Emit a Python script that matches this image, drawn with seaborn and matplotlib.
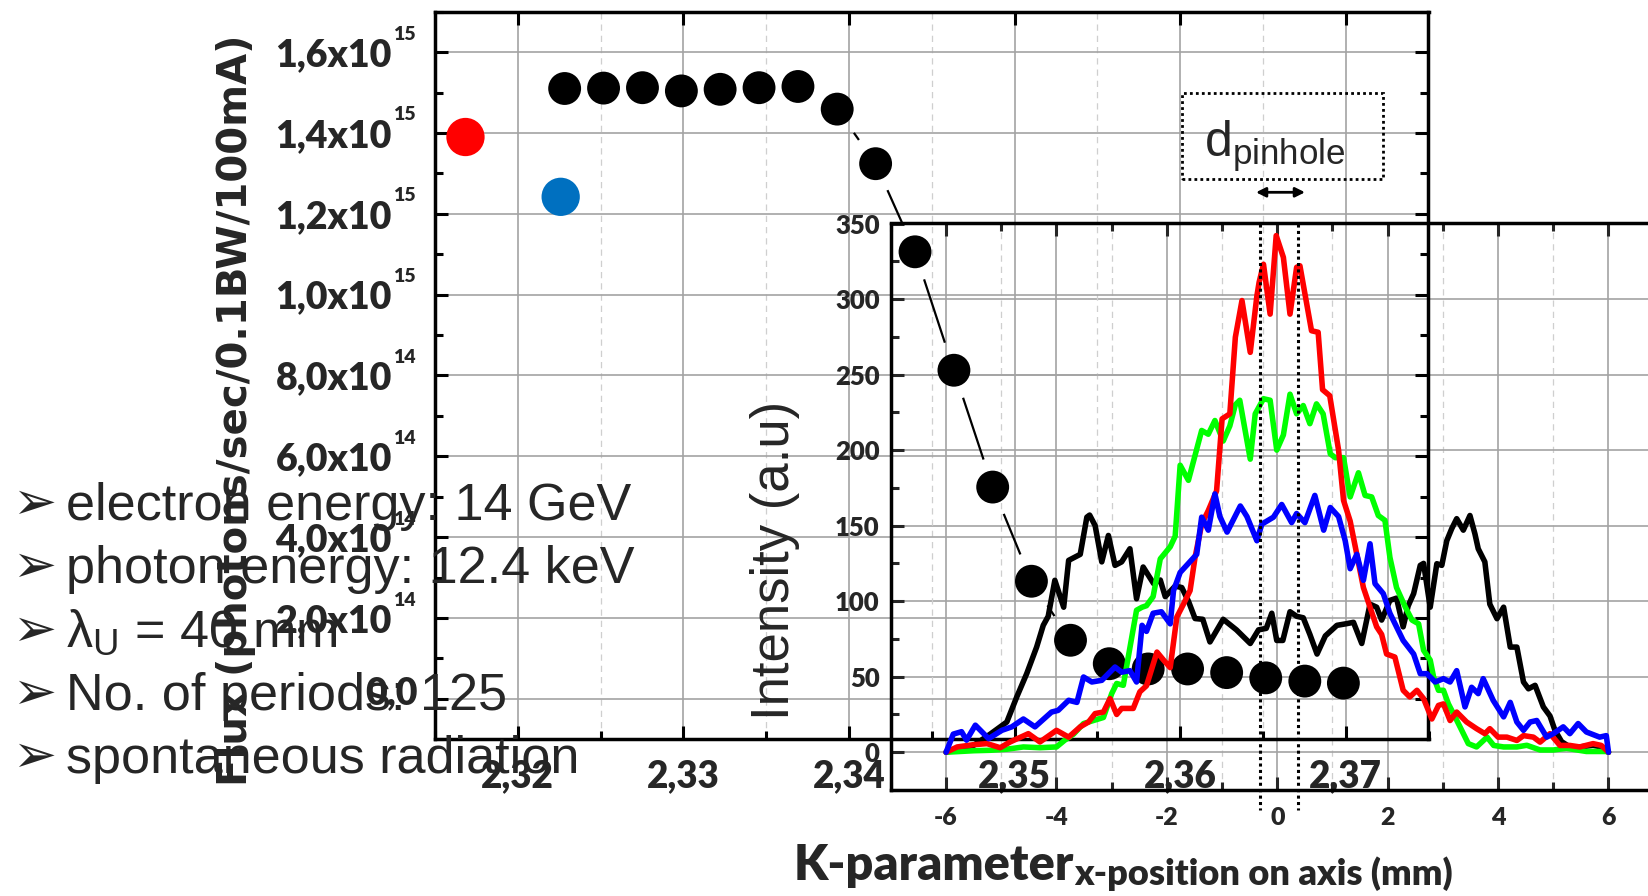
import numpy as np
import pandas as pd
import matplotlib
matplotlib.use("Agg")
import matplotlib.pyplot as plt
import seaborn as sns
from matplotlib.patches import Rectangle, FancyArrowPatch
from matplotlib.ticker import MultipleLocator

# ---------------- data ----------------
# Undulator flux versus K-parameter
k_param = [2.32283, 2.32518, 2.32753, 2.32988, 2.33222, 2.33457, 2.33692,
           2.33929, 2.34161, 2.34399, 2.34634, 2.34868, 2.35102, 2.35338,
           2.35572, 2.35807, 2.36045, 2.36281, 2.36517, 2.36753, 2.36986]
flux = [1.510e15, 1.511e15, 1.512e15, 1.504e15, 1.508e15, 1.512e15, 1.515e15,
        1.459e15, 1.324e15, 1.106e15, 0.813e15, 0.524e15, 0.291e15, 0.145e15,
        0.087e15, 0.074e15, 0.074e15, 0.065e15, 0.052e15, 0.044e15, 0.039e15]
k_red = [2.31684]
flux_red = [1.390e15]
k_blue = [2.32259]
flux_blue = [1.242e15]

flux_ticks = [0, 2e14, 4e14, 6e14, 8e14, 1.0e15, 1.2e15, 1.4e15, 1.6e15]
flux_tick_base = ["0,0", "2,0x10", "4,0x10", "6,0x10", "8,0x10",
                  "1,0x10", "1,2x10", "1,4x10", "1,6x10"]
flux_tick_exp = ["", "14", "14", "14", "14", "15", "15", "15", "15"]
k_ticks = [2.32, 2.33, 2.34, 2.35, 2.36, 2.37]
k_tick_labels = ["2,32", "2,33", "2,34", "2,35", "2,36", "2,37"]

# Beam profiles along x on axis
black_x = [-6.0, -5.5, -5.2, -4.9, -4.72, -4.54, -4.36, -4.24, -4.15, -4.03, -3.87,
           -3.78, -3.57, -3.45, -3.40, -3.30, -3.18, -3.06, -2.94, -2.82, -2.67,
           -2.55, -2.43, -2.24, -2.12, -2.03, -1.85, -1.73, -1.61, -1.49, -1.35,
           -1.22, -0.98, -0.74, -0.49, -0.34, -0.20, -0.10, -0.01, 0.10, 0.23,
           0.35, 0.47, 0.59, 0.72, 0.87, 1.08, 1.24, 1.38, 1.53, 1.68, 1.80,
           1.89, 2.04, 2.16, 2.28, 2.37, 2.47, 2.59, 2.65, 2.77, 2.89, 2.98,
           3.07, 3.16, 3.25, 3.37, 3.49, 3.58, 3.64, 3.76, 3.85, 3.98, 4.10,
           4.22, 4.34, 4.46, 4.55, 4.67, 4.82, 4.94, 5.03, 5.15, 5.30, 5.48,
           5.72, 5.87, 6.0]
black_i = [0, 4.6, 12, 20, 36.6, 52, 69.6, 84, 90, 113.8, 96,
           127, 131, 155.6, 157, 150, 126, 143.5, 123.7, 126, 134.7,
           101.6, 122.6, 111.6, 114, 103, 110, 109, 100, 88.5, 88,
           73, 88, 81, 72, 81, 82, 92, 74, 74, 93,
           90, 89, 78, 65, 77, 84, 85, 86, 72, 98, 96,
           87.5, 100.5, 102, 83, 96.8, 105, 123.7, 125, 96, 124.8, 123.7,
           140, 148, 154.6, 147, 156.7, 144.6, 134.7, 126, 98, 88.4, 96,
           69.6, 69.6, 46.5, 42, 44.3, 30, 24, 14.5, 7, 3.5, 3.5,
           4.6, 3.5, 0]

green_x = [-6.0, -5.5, -5.2, -4.9, -4.6, -4.3, -4.0, -3.85, -3.69, -3.51, -3.33,
           -3.15, -3.0, -2.91, -2.79, -2.70, -2.55, -2.45, -2.37, -2.25, -2.12,
           -1.94, -1.85, -1.76, -1.61, -1.37, -1.25, -1.13, -0.98, -0.86, -0.76,
           -0.68, -0.49, -0.40, -0.25, -0.13, -0.01, 0.11, 0.23, 0.35, 0.47,
           0.59, 0.71, 0.83, 0.96, 1.05, 1.20, 1.32, 1.47, 1.59, 1.71, 1.83,
           1.95, 2.04, 2.16, 2.32, 2.44, 2.56, 2.65, 2.77, 2.83, 2.92, 3.01,
           3.10, 3.19, 3.31, 3.46, 3.61, 3.80, 3.92, 4.10, 4.34, 4.52, 4.76,
           5.00, 5.24, 5.60, 5.96, 6.0]
green_i = [0, 1, 1.3, 2, 3.5, 3, 3.5, 8, 12, 19, 21,
           23, 38.8, 45.5, 44.3, 63, 94, 96, 97, 103, 128,
           136, 143, 190, 180, 213, 210.5, 219.6, 206, 216, 230,
           233, 194, 224, 234, 233, 200, 210, 237, 224, 229.5,
           217.5, 230.6, 224, 197.5, 195, 195, 169, 185, 170, 169, 156.7,
           153.5, 129, 109, 96, 87.5, 85, 67.5, 61, 50, 41, 41,
           32, 25.6, 16.8, 5.7, 3.5, 10, 4.5, 3.5, 3.5, 4.6, 1.5,
           1.5, 2.6, 0.5, 0.5, 0]

red_x = [-6.0, -5.8, -5.5, -5.26, -5.02, -4.84, -4.51, -4.30, -4.0, -3.78, -3.57,
         -3.42, -3.30, -3.15, -3.03, -2.91, -2.82, -2.61, -2.49, -2.37, -2.18,
         -2.06, -1.94, -1.82, -1.70, -1.58, -1.49, -1.37, -1.25, -1.10, -1.0,
         -0.86, -0.76, -0.64, -0.49, -0.37, -0.33, -0.25, -0.13, -0.02, 0.11,
         0.23, 0.35, 0.41, 0.62, 0.74, 0.82, 0.95, 1.11, 1.20, 1.32, 1.44,
         1.56, 1.68, 1.80, 1.89, 1.98, 2.13, 2.28, 2.40, 2.53, 2.65, 2.80,
         2.92, 3.01, 3.13, 3.25, 3.43, 3.61, 3.76, 3.85, 4.0, 4.16, 4.34,
         4.46, 4.64, 4.76, 4.94, 5.12, 5.30, 5.48, 5.72, 5.87, 6.0]
red_i = [0, 3.5, 5, 5.7, 3, 6.8, 12.3, 6.8, 14.5, 10, 16.8,
         20, 25.6, 26.6, 35.5, 25, 29, 29, 40, 44, 66.3,
         61, 56, 89.5, 98, 107, 129, 151, 160, 173, 220.7,
         224, 274.7, 299, 264.7, 302, 311, 323, 290, 342, 327.6,
         290, 321, 322, 279, 278, 240, 236, 200, 166.7, 153, 131,
         109, 96, 83, 78, 65, 63, 41, 36.6, 41, 35.5, 22,
         31, 32, 21, 26.6, 20, 15.6, 12.3, 15.6, 10, 10, 7.8,
         11, 10, 6.7, 12.3, 4.5, 4.5, 3.5, 5.7, 4.5, 0]

blue_x = [-6.0, -5.87, -5.72, -5.63, -5.47, -5.23, -4.99, -4.81, -4.60, -4.39, -4.09,
          -3.97, -3.78, -3.63, -3.51, -3.36, -3.18, -2.94, -2.82, -2.67, -2.55,
          -2.45, -2.37, -2.25, -2.10, -1.94, -1.88, -1.76, -1.46, -1.37, -1.25,
          -1.13, -1.04, -0.91, -0.67, -0.55, -0.37, -0.28, -0.07, 0.08, 0.26,
          0.35, 0.50, 0.68, 0.84, 0.96, 1.11, 1.23, 1.32, 1.44, 1.56, 1.68,
          1.77, 1.92, 2.04, 2.16, 2.28, 2.47, 2.59, 2.71, 2.86, 3.01, 3.13,
          3.25, 3.40, 3.52, 3.64, 3.73, 3.91, 4.10, 4.22, 4.34, 4.46, 4.58,
          4.70, 4.88, 5.00, 5.18, 5.30, 5.45, 5.60, 5.84, 5.96, 6.0]
blue_i = [0, 12, 13.6, 8, 17.9, 9, 14.5, 16.8, 22, 16.8, 26.6,
          27.7, 34.4, 33, 49.8, 46.5, 47.6, 56.4, 53, 54, 46.5,
          84, 80, 92, 93, 85, 107, 119, 131, 155.6, 147,
          171, 156, 145.7, 163, 156, 140, 151, 155.6, 164, 152,
          158, 152, 170, 147, 162, 156, 140, 121.5, 131, 113.8, 138,
          111.6, 105, 92, 83, 74, 65, 52, 52, 46.5, 48.7, 46.5,
          54, 30, 43, 38.8, 48.7, 34.4, 23.4, 33, 20, 14.5, 20,
          21, 10, 12.3, 16.8, 12.3, 19, 13.4, 10, 11, 0]

pinhole_edges = [-0.32, 0.38]

bullets = ["electron energy: 14 GeV",
           "photon energy: 12.4 keV",
           r"λ$_\mathregular{U}$ = 40 mm",
           "No. of periods: 125",
           "spontaneous radiation"]

# ---------------- style ----------------
sns.set_theme(style="white")
plt.rcParams["font.family"] = ["Liberation Sans", "DejaVu Sans"]
plt.rcParams["axes.unicode_minus"] = False
plt.rcParams["mathtext.default"] = "regular"

W, H = 1649, 896
fig = plt.figure(figsize=(W / 100, H / 100), dpi=100)
fig.patch.set_facecolor("white")

LATO = ["Lato", "DejaVu Sans"]
TICK_WEIGHT = "heavy"
GRID_MAJOR = dict(color="#a3a3a3", lw=1.2, ls="-")
GRID_MINOR = dict(color="#cfcfcf", lw=0.9, ls=(0, (5, 4)))
SPINE_W = 2.5


def frac_box(left, top, right, bottom):
    return [left / W, 1 - bottom / H, (right - left) / W, (bottom - top) / H]


inset_box = frac_box(890.9, 223.5, 1663.7, 790.0)
main_box = frac_box(435.0, 11.7, 1428.5, 739.3)

# inset grid layer (under the K-scan dots)
ax_grid = fig.add_axes(inset_box, zorder=1)
# main K-scan axes
ax = fig.add_axes(main_box, zorder=2)
# inset profile curves on top
ax_in = fig.add_axes(inset_box, zorder=3)

for a in (ax_grid, ax, ax_in):
    a.set_facecolor("none")

inset_xlim, inset_ylim = (-7, 7), (-25, 350)
for a in (ax_grid, ax_in):
    a.set_xlim(*inset_xlim)
    a.set_ylim(*inset_ylim)
    a.xaxis.set_major_locator(MultipleLocator(2))
    a.xaxis.set_minor_locator(MultipleLocator(1))
    a.yaxis.set_major_locator(MultipleLocator(50))
    a.yaxis.set_minor_locator(MultipleLocator(25))

ax_grid.grid(which="major", **GRID_MAJOR)
ax_grid.grid(which="minor", axis="x", **GRID_MINOR)
ax_grid.tick_params(which="both", length=0, labelbottom=False, labelleft=False)
for s in ax_grid.spines.values():
    s.set_visible(False)

# ---------------- main axes ----------------
ax.set_xlim(2.315, 2.375)
ax.set_ylim(-1e14, 1.7e15)
ax.set_xticks(k_ticks, labels=k_tick_labels, fontsize=26.5, fontweight=TICK_WEIGHT,
              fontfamily=LATO)
ax.xaxis.set_minor_locator(MultipleLocator(0.005))
ax.set_yticks(flux_ticks, labels=[""] * len(flux_ticks))
ax.yaxis.set_minor_locator(MultipleLocator(1e14))
ax.grid(which="major", **GRID_MAJOR)
ax.grid(which="minor", axis="x", **GRID_MINOR)
ax.set_axisbelow(True)
for s in ax.spines.values():
    s.set_linewidth(SPINE_W)
    s.set_color("black")
ax.tick_params(which="major", direction="in", length=9.5, width=2.2, color="black",
               top=True, right=True, left=True, bottom=True, pad=14,
               labelleft=False)
ax.tick_params(which="minor", direction="in", length=5.8, width=2.2, color="black",
               top=False, right=True, left=True, bottom=True)

# y tick labels written as mantissa x 10 with a small raised exponent
ytrans = ax.get_yaxis_transform()
for val, base, exp in zip(flux_ticks, flux_tick_base, flux_tick_exp):
    offset = (-31, 0) if exp else (-12.2, 6.5)
    ax.annotate(base, xy=(0, val), xycoords=ytrans,
                xytext=offset, textcoords="offset points",
                ha="right", va="center_baseline", fontsize=27,
                fontweight=TICK_WEIGHT, fontfamily=LATO, annotation_clip=False)
    if exp:
        ax.annotate(exp, xy=(0, val), xycoords=ytrans,
                    xytext=(-30.5, 9), textcoords="offset points",
                    ha="left", va="baseline", fontsize=14,
                    fontweight=TICK_WEIGHT, fontfamily=LATO, annotation_clip=False)

# connecting line between successive K points, with a gap around each symbol
pts = ax.transData.transform(np.column_stack([k_param, flux]))
gap_px = 29.0
inv = ax.transData.inverted()
for p0, p1 in zip(pts[:-1], pts[1:]):
    d = p1 - p0
    length = np.hypot(*d)
    if length <= 2 * gap_px:
        continue
    u = d / length
    seg = inv.transform(np.vstack([p0 + u * gap_px, p1 - u * gap_px]))
    ax.plot(seg[:, 0], seg[:, 1], color="black", lw=1.6, zorder=3,
            solid_capstyle="butt")

sns.scatterplot(x=k_param, y=flux, ax=ax, color="black", s=560,
                edgecolor="none", linewidth=0, zorder=4, legend=False)
sns.scatterplot(x=k_red, y=flux_red, ax=ax, color="#ff0000", s=760,
                edgecolor="none", linewidth=0, zorder=4, legend=False)
sns.scatterplot(x=k_blue, y=flux_blue, ax=ax, color="#0070c0", s=760,
                edgecolor="none", linewidth=0, zorder=4, legend=False)

ax.set_xlabel("K-parameter", fontsize=35, fontweight=TICK_WEIGHT, fontfamily=LATO,
              ha="left", va="baseline")
ax.xaxis.set_label_coords(0.3613, -0.1934)
ax.set_ylabel("")

# ---------------- inset profiles ----------------
profiles = pd.concat([
    pd.DataFrame({"x": black_x, "I": black_i, "run": "ring"}),
    pd.DataFrame({"x": green_x, "I": green_i, "run": "green"}),
    pd.DataFrame({"x": red_x, "I": red_i, "run": "red"}),
    pd.DataFrame({"x": blue_x, "I": blue_i, "run": "blue"}),
], ignore_index=True)
palette = {"ring": "black", "green": "#00ff00", "red": "#ff0000", "blue": "#0000ff"}
sns.lineplot(data=profiles, x="x", y="I", hue="run",
             hue_order=["ring", "green", "red", "blue"], palette=palette,
             estimator=None, sort=False, lw=4.0, ax=ax_in, legend=False)

for xe in pinhole_edges:
    ax_in.plot([xe, xe], [inset_ylim[1], -38], color="black", lw=2.2,
               ls=(0, (1, 1.1)), clip_on=False, zorder=5,
               dash_capstyle="butt")

ax_in.grid(False)
ax_in.set_xticks([-6, -4, -2, 0, 2, 4, 6],
                 labels=["-6", "-4", "-2", "0", "2", "4", "6"],
                 fontsize=18, fontweight=TICK_WEIGHT, fontfamily=LATO)
ax_in.set_yticks([0, 50, 100, 150, 200, 250, 300, 350],
                 labels=["0", "50", "100", "150", "200", "250", "300", "350"],
                 fontsize=18.5, fontweight=TICK_WEIGHT, fontfamily=LATO)
ax_in.xaxis.set_minor_locator(MultipleLocator(1))
ax_in.yaxis.set_minor_locator(MultipleLocator(25))
for s in ax_in.spines.values():
    s.set_linewidth(SPINE_W)
    s.set_color("black")
ax_in.tick_params(axis="x", which="major", direction="in", length=9.5, width=2.2,
                  top=True, bottom=True, pad=12)
ax_in.tick_params(axis="x", which="minor", direction="in", length=5.8, width=2.2,
                  top=True, bottom=True)
ax_in.tick_params(axis="y", which="major", direction="in", length=9.5, width=2.2,
                  left=True, right=False, pad=8)
ax_in.tick_params(axis="y", which="minor", direction="in", length=5.8, width=2.2,
                  left=True, right=False)
ax_in.set_xlabel("x-position on axis (mm)", fontsize=26, fontweight=TICK_WEIGHT,
                 fontfamily=LATO, ha="left", va="baseline")
ax_in.xaxis.set_label_coords(0.2367, -0.1677)
ax_in.set_ylabel("Intensity (a.u)", fontsize=38, fontfamily=["Liberation Sans"])
ax_in.yaxis.set_label_coords(-0.118, 0.406)

# main flux axis title, rotated, left of the tick labels
fig.text(247 / W, 1 - 410 / H, "Flux (photons/sec/0.1BW/100mA)", rotation=90,
         rotation_mode="anchor", ha="center", va="baseline", fontsize=29,
         fontweight="bold", fontfamily=["DejaVu Sans"], zorder=8)

# ---------------- pinhole annotation ----------------
fig.add_artist(Rectangle((1181.7 / W, 1 - 179.0 / H), (1383.3 - 1181.7) / W,
                         (179.0 - 92.7) / H, transform=fig.transFigure,
                         fill=False, ec="black", lw=2.0, ls=(0, (1, 1.15)),
                         zorder=6))
fig.text(1204 / W, 1 - 156.7 / H, r"d$_\mathregular{pinhole}$", fontsize=36,
         fontfamily=["Liberation Sans"], va="baseline", ha="left", zorder=6)
fig.add_artist(FancyArrowPatch(
    (1256 / W, 1 - 192.3 / H), (1305 / W, 1 - 192.3 / H),
    transform=fig.transFigure, arrowstyle="<|-|>", mutation_scale=14,
    lw=2.0, color="black", shrinkA=0, shrinkB=0, zorder=6))

# ---------------- parameter list ----------------
baselines = [520.0, 583.3, 646.7, 710.0, 773.3]
for b, line in zip(baselines, bullets):
    fig.text(12 / W, 1 - (b - 1) / H, "\u27a2", fontsize=38, fontfamily=["DejaVu Sans"],
             va="baseline", ha="left", zorder=7)
    fig.text(66 / W, 1 - b / H, line, fontsize=37.5,
             fontfamily=["Liberation Sans", "DejaVu Sans"],
             va="baseline", ha="left", zorder=7)

fig.savefig("out.png", dpi=100, facecolor="white")
